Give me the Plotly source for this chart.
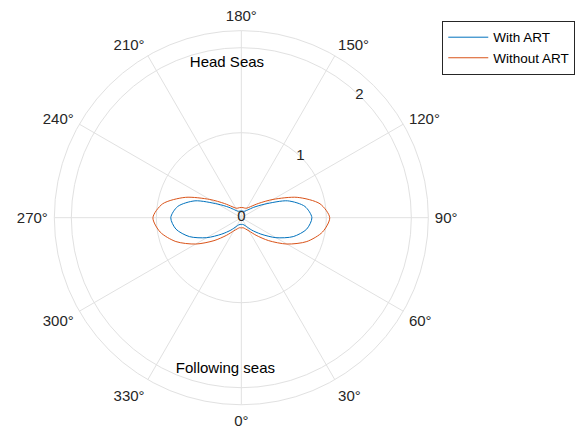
import plotly.graph_objects as go

# Heading angles (deg) and response amplitudes
theta_deg = list(range(0, 361, 10))
with_art = [0.08, 0.08, 0.09, 0.12, 0.19, 0.30, 0.47, 0.65, 0.78, 0.83,
            0.76, 0.58, 0.32, 0.19, 0.12, 0.09, 0.08, 0.08, 0.08,
            0.08, 0.08, 0.09, 0.12, 0.19, 0.32, 0.58, 0.76, 0.83,
            0.78, 0.65, 0.47, 0.30, 0.19, 0.12, 0.09, 0.08, 0.08]
without_art = [0.12, 0.12, 0.14, 0.18, 0.27, 0.42, 0.62, 0.82, 0.97, 1.04,
               0.94, 0.70, 0.43, 0.26, 0.17, 0.13, 0.12, 0.12, 0.12,
               0.12, 0.12, 0.13, 0.17, 0.26, 0.43, 0.70, 0.94, 1.04,
               0.97, 0.82, 0.62, 0.42, 0.27, 0.18, 0.14, 0.12, 0.12]

series_names = ["With ART", "Without ART"]
series_colors = ["#0072BD", "#D95319"]

# Sea-direction labels: (text, theta, r)
region_labels = ["Head Seas", "Following seas"]
region_theta = [185.3, 354.0]
region_r = [1.83, 1.79]

# Radial ticks, labelled along the 136 deg spoke
r_ticks = [0, 1, 2]
r_label_theta = 136
r_max = 2.2

FONT = "Liberation Sans, Arial, sans-serif"
GRID = "#e1e1e1"
TXT = "#262626"

fig = go.Figure()
for name, vals, col in zip(series_names, [with_art, without_art], series_colors):
    fig.add_trace(go.Scatterpolar(
        r=vals, theta=theta_deg, mode="lines", name=name,
        line=dict(color=col, width=1, shape="spline", smoothing=0.8),
    ))

fig.add_trace(go.Scatterpolar(
    r=region_r, theta=region_theta, mode="text", text=region_labels,
    textfont=dict(family=FONT, size=15, color="#000000"),
    showlegend=False, hoverinfo="skip",
))

fig.add_trace(go.Scatterpolar(
    r=r_ticks, theta=[r_label_theta] * len(r_ticks), mode="text",
    text=[str(v) for v in r_ticks],
    textfont=dict(family=FONT, size=15, color=TXT),
    showlegend=False, hoverinfo="skip",
))

fig.update_layout(
    width=577, height=436,
    margin=dict(l=0, r=0, t=0, b=0),
    paper_bgcolor="white",
    font=dict(family=FONT, size=15, color=TXT),
    polar=dict(
        domain=dict(x=[0.0875, 0.749], y=[0.0718, 0.9296]),
        bgcolor="white",
        angularaxis=dict(
            rotation=270, direction="counterclockwise",
            dtick=30, ticksuffix="°",
            ticks="outside", ticklen=3, tickcolor="rgba(0,0,0,0)",
            showline=True, linecolor=GRID, linewidth=1,
            gridcolor=GRID, gridwidth=1,
            tickfont=dict(family=FONT, size=15, color=TXT),
        ),
        radialaxis=dict(
            range=[0, r_max], tickvals=r_ticks,
            showticklabels=False, showline=False, ticks="",
            gridcolor=GRID, gridwidth=1,
        ),
    ),
    legend=dict(
        x=0.997, y=0.952, xanchor="right", yanchor="top",
        bgcolor="white", bordercolor=TXT, borderwidth=1,
        font=dict(family=FONT, size=13.5, color="#000000"),
        tracegroupgap=0, itemwidth=40,
    ),
)

fig.write_html("out.html")
